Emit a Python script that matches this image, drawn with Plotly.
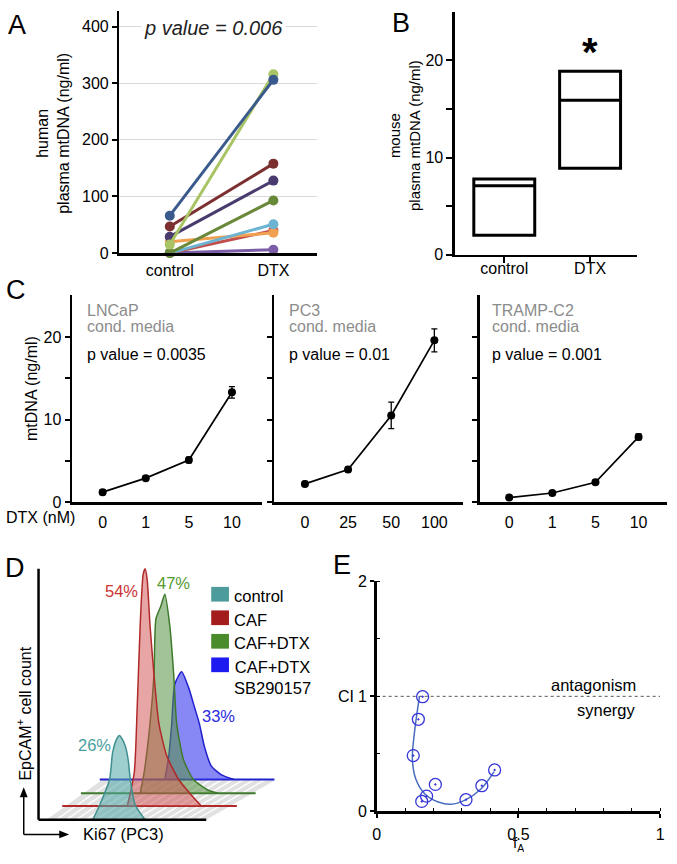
import plotly.graph_objects as go

W, H = 677, 864
FONT = "Liberation Sans, Arial, sans-serif"


def fx(px):
    return px / W


def fy(py):
    return 1 - py / H


# ---------------- data ----------------
# Panel A: human plasma mtDNA (ng/ml), paired patients
a_groups = ["control", "DTX"]
a_control = [0, 0, 20, 0, 0, 29, 47, 15, 66]
a_dtx = [6, 40, 36, 51, 93, 128, 158, 316, 306]
a_colors = ["#7b5ea7", "#c0504d", "#f0a050", "#6cb4d2", "#69883a",
            "#4a3b6e", "#7b2f30", "#a9c465", "#3a5a8c"]

# Panel B: mouse plasma mtDNA (ng/ml) floating boxes
b_groups = ["control", "DTX"]
b_low = [2.0, 8.9]
b_median = [7.1, 15.9]
b_high = [7.8, 18.9]

# Panel C: conditioned media mtDNA (ng/ml)
c_lncap_dose = ["0", "1", "5", "10"]
c_lncap = [1.2, 2.9, 5.1, 13.3]
c_lncap_err = [0.3, 0.25, 0.35, 0.7]
c_pc3_dose = ["0", "25", "50", "100"]
c_pc3 = [2.2, 3.95, 10.5, 19.6]
c_pc3_err = [0.3, 0.3, 1.6, 1.4]
c_tramp_dose = ["0", "1", "5", "10"]
c_tramp = [0.55, 1.1, 2.4, 7.9]
c_tramp_err = [0.2, 0.2, 0.25, 0.35]

# Panel D: Ki67 histograms (intensity, count) per condition
d_names = ["control", "CAF", "CAF+DTX", "CAF+DTX<br>SB290157"]
d_pct = ["26%", "54%", "47%", "33%"]
d_teal_x = [55, 62, 72, 75, 79, 82, 85, 88, 91, 93, 98, 108]
d_teal_y = [0, 15, 41, 68, 82, 86, 82, 75, 60, 41, 15, 0]
d_red_x = [71, 78, 81, 84, 87, 89, 91, 94, 98, 103, 111, 123, 136, 146]
d_red_y = [0, 34, 101, 184, 236, 242, 232, 184, 134, 84, 51, 27, 11, 0]
d_green_x = [65, 69, 75, 79, 81, 86, 90, 95, 99, 102, 109, 119, 134, 144]
d_green_y = [0, 21, 71, 121, 178, 191, 203, 171, 121, 71, 34, 14, 3, 0]
d_blue_x = [71, 75, 78, 81, 88, 95, 101, 106, 111, 118, 128, 141]
d_blue_y = [0, 24, 57, 97, 110, 94, 74, 57, 34, 14, 5, 0]

# Panel E: combination index vs fraction affected
e_fa = [0.162, 0.147, 0.129, 0.207, 0.176, 0.159, 0.315, 0.371, 0.416]
e_ci = [0.997, 0.80, 0.484, 0.233, 0.131, 0.085, 0.10, 0.222, 0.359]
e_fit_fa = [0.151, 0.133, 0.126, 0.138, 0.17, 0.217, 0.263, 0.31, 0.368, 0.414]
e_fit_ci = [1.0, 0.68, 0.45, 0.28, 0.15, 0.08, 0.06, 0.094, 0.193, 0.344]

fig = go.Figure()

# ---------------- Panel A ----------------
for c0, c1, col in zip(a_control, a_dtx, a_colors):
    fig.add_trace(go.Scatter(
        x=[0, 1], y=[c0, c1], mode="lines+markers",
        line=dict(color=col, width=3), marker=dict(color=col, size=10),
        xaxis="x", yaxis="y", cliponaxis=False))

# ---------------- Panel B ----------------
fig.add_trace(go.Box(
    x=[0, 1], q1=b_low, median=b_median, q3=b_high,
    lowerfence=b_low, upperfence=b_high, width=0.71,
    fillcolor="white", line=dict(color="black", width=3),
    whiskerwidth=0, boxpoints=False, xaxis="x2", yaxis="y2"))

# ---------------- Panel C ----------------
for ax, xs, ys, es in [("3", c_lncap_dose, c_lncap, c_lncap_err),
                       ("4", c_pc3_dose, c_pc3, c_pc3_err),
                       ("5", c_tramp_dose, c_tramp, c_tramp_err)]:
    fig.add_trace(go.Scatter(
        x=list(range(len(xs))), y=ys, mode="lines+markers",
        line=dict(color="black", width=1.7),
        marker=dict(color="black", size=8),
        error_y=dict(type="data", array=es, visible=True, color="black",
                     thickness=1.3, width=3),
        xaxis="x" + ax, yaxis="y" + ax, cliponaxis=False))

# ---------------- Panel D ----------------
depth = [(0, 2), (19, 16), (38, 29), (57, 43)]
span = (5, 178)
fz, bz = depth[0], depth[3]
plane_x = [span[0] + 3 + fz[0], span[1] - 8 + fz[0], span[1] + bz[0] + 6, span[0] + bz[0] + 3, span[0] + 3 + fz[0]]
plane_y = [fz[1], fz[1], bz[1], bz[1], fz[1]]
fig.add_trace(go.Scatter(x=plane_x, y=plane_y, fill="toself", mode="lines",
                         fillcolor="rgba(200,200,200,0.55)", line=dict(width=0),
                         xaxis="x6", yaxis="y6", hoverinfo="skip"))
for k in range(1, 16):
    t = k / 16
    x0 = plane_x[0] + t * (plane_x[1] - plane_x[0])
    x1 = plane_x[3] + t * (plane_x[2] - plane_x[3])
    fig.add_trace(go.Scatter(x=[x0, x1], y=[fz[1], bz[1]], mode="lines",
                             line=dict(color="rgba(255,255,255,0.9)", width=1.5),
                             xaxis="x6", yaxis="y6", hoverinfo="skip"))

curves = [
    (d_blue_x, d_blue_y, 3, "rgba(55,55,240,0.6)", "#2222cc"),
    (d_green_x, d_green_y, 2, "rgba(85,145,65,0.55)", "#3d7a2c"),
    (d_red_x, d_red_y, 1, "rgba(210,75,75,0.5)", "#b02a2a"),
    (d_teal_x, d_teal_y, 0, "rgba(80,165,165,0.55)", "#3f8f8f"),
]
for xs, ys, di, fc, lc in curves:
    dx, dy = depth[di]
    if di > 0:
        fig.add_trace(go.Scatter(x=[span[0] + dx, span[1] + dx + 4], y=[dy, dy], mode="lines",
                                 line=dict(color=lc, width=1.8),
                                 xaxis="x6", yaxis="y6", hoverinfo="skip"))
    fig.add_trace(go.Scatter(x=[v + dx for v in xs], y=[v + dy for v in ys],
                             fill="toself", fillcolor=fc, mode="lines",
                             line=dict(color=lc, width=1.5, shape="spline", smoothing=0.6),
                             xaxis="x6", yaxis="y6", hoverinfo="skip"))

# ---------------- Panel E ----------------
fig.add_trace(go.Scatter(x=[0, 1], y=[1, 1], mode="lines",
                         line=dict(color="#555555", width=1, dash="dot"),
                         xaxis="x7", yaxis="y7"))
fig.add_trace(go.Scatter(x=e_fit_fa, y=e_fit_ci, mode="lines",
                         line=dict(color="#4a6cc0", width=1.5, shape="spline"),
                         xaxis="x7", yaxis="y7"))
fig.add_trace(go.Scatter(x=e_fa, y=e_ci, mode="markers",
                         marker=dict(symbol="circle-open-dot", size=12,
                                     color="#3535d8", line=dict(width=1.3, color="#3535d8")),
                         xaxis="x7", yaxis="y7", cliponaxis=False))

# ---------------- layout ----------------
tf = dict(family=FONT, size=16, color="black")
base = dict(showgrid=False, zeroline=False, showline=True, linecolor="black",
            linewidth=2.5, tickfont=tf, tickcolor="black", tickwidth=2)
minor5 = dict(tickvals=[5, 15], ticks="outside", ticklen=6, tickcolor="black", tickwidth=2)

layout = dict(
    width=W, height=H, margin=dict(l=0, r=0, t=0, b=0),
    paper_bgcolor="white", plot_bgcolor="white", showlegend=False,
    font=dict(family=FONT, color="black"), hovermode=False,
)
# A
layout["xaxis"] = dict(base, domain=[fx(117), fx(317)], range=[-0.486, 1.419],
                       tickvals=[0, 1], ticktext=a_groups, ticks="", ticklabelstandoff=1)
layout["yaxis"] = dict(base, domain=[fy(250), fy(3)], range=[0, 427.7],
                       tickvals=[0, 100, 200, 300, 400], ticks="outside", ticklen=5,
                       showgrid=True, gridcolor="#d9d9d9", gridwidth=1)
# B
layout["xaxis2"] = dict(base, domain=[fx(457), fx(642)], range=[-0.575, 1.552], anchor="y2",
                        tickvals=[0, 1], ticktext=b_groups, ticks="outside", ticklen=6,
                        ticklabelstandoff=-8)
layout["yaxis2"] = dict(base, domain=[fy(251.7), fy(4)], range=[0, 25], anchor="x2",
                        tickvals=[0, 10, 20], ticks="outside", ticklen=6, minor=minor5)
# C
cy = dict(base, domain=[fy(504), fy(292.7)], range=[0, 25.1],
          tickvals=[0, 10, 20], ticks="outside", ticklen=5, minor=dict(minor5, ticklen=5))
for ax, dom, rng, labels, show in [("3", [69, 261], [-0.709, 3.686], c_lncap_dose, True),
                                   ("4", [274, 465], [-0.709, 3.66], c_pc3_dose, False),
                                   ("5", [482, 672], [-0.686, 3.66], c_tramp_dose, False)]:
    layout["xaxis" + ax] = dict(base, domain=[fx(dom[0]), fx(dom[1])], range=rng,
                                tickvals=[0, 1, 2, 3], ticktext=labels, ticks="",
                                anchor="y" + ax, ticklabelstandoff=4)
    yd = dict(cy, anchor="x" + ax)
    if not show:
        yd["showticklabels"] = False
    layout["yaxis" + ax] = yd
# D
layout["xaxis6"] = dict(domain=[fx(35), fx(280)], range=[0, 245], visible=False, anchor="y6")
layout["yaxis6"] = dict(domain=[fy(830), fy(570)], range=[0, 260], visible=False, anchor="x6")
# E
layout["xaxis7"] = dict(base, domain=[fx(377.7), fx(665)], range=[0, 1], anchor="y7",
                        tickvals=[0, 0.5, 1], ticktext=["0", "0.5", "1"],
                        ticks="outside", ticklen=4, ticklabelstandoff=3,
                        minor=dict(dtick=0.1, ticks="inside", ticklen=3, tickcolor="black", tickwidth=1))
layout["yaxis7"] = dict(base, domain=[fy(819.3), fy(585)], range=[0, 2], anchor="x7",
                        tickvals=[0, 1, 2], ticks="outside", ticklen=4,
                        minor=dict(dtick=0.5, ticks="inside", ticklen=3, tickcolor="black", tickwidth=1))
fig.update_layout(**layout)

anns = []


def ann(text, x, y, size=16, color="black", xanchor="center", yanchor="middle", **kw):
    anns.append(dict(text=text, x=fx(x), y=fy(y), xref="paper", yref="paper",
                     showarrow=False, xanchor=xanchor, yanchor=yanchor,
                     font=dict(family=FONT, size=size, color=color), **kw))


# panel letters
for letter, x, y in [("A", 13, 17), ("B", 402, 15), ("C", 12, 288), ("D", 11, 571), ("E", 343, 568)]:
    ann(letter, x, y, size=27)

# A
ann("human<br>plasma mtDNA (ng/ml)", 50, 128, size=16, textangle=-90)
anns.append(dict(text="<i>p value = 0.006</i>", x=0.42, y=398, xref="x", yref="y",
                 showarrow=False, font=dict(family=FONT, size=20, color="#222222"),
                 bgcolor="white", borderpad=2))
# B
ann("mouse<br>plasma mtDNA (ng/ml)", 406, 130, size=15, textangle=-90)
ann("<b>*</b>", 594, 45, size=40)
# C
ann("mtDNA (ng/ml)", 28, 388, size=16, textangle=-90)
ann("DTX (nM)", 37, 520, size=16)
for x, name, p in [(82, "LNCaP", "p value = 0.0035"), (287, "PC3", "p value = 0.01"),
                   (493, "TRAMP-C2", "p value = 0.001")]:
    ann(name, x, 309, size=16, color="#8c8c8c", xanchor="left")
    ann("cond. media", x, 325, size=16, color="#8c8c8c", xanchor="left")
    ann(p, x, 353, size=16, xanchor="left")
# D
ann("EpCAM<sup>+</sup> cell count", 20, 720, size=16, textangle=-90)
ann("Ki67 (PC3)", 78, 843, size=16.5, xanchor="left")
for txt, x, y, col in [(d_pct[0], 92, 752, "#4a9e9e"), (d_pct[1], 119, 595, "#cc3333"),
                       (d_pct[2], 172, 587, "#55992e"), (d_pct[3], 217, 722, "#2a2ae0")]:
    ann(txt, x, y, size=16.5, color=col)
leg_cols = ["#4d9b9a", "#a31d1d", "#4a8c2c", "#1c1cf0"]
leg_y = [598, 622, 646, 670]
shapes = []
for name, col, y in zip(d_names, leg_cols, leg_y):
    shapes.append(dict(type="rect", xref="paper", yref="paper", x0=fx(210), x1=fx(228),
                       y0=fy(y + 7.5), y1=fy(y - 7.5), fillcolor=col, line=dict(width=0)))
    ann(name, 231, y - 9, size=16.5, xanchor="left", yanchor="top")
# D axes
shapes.append(dict(type="line", xref="paper", yref="paper", x0=fx(35), x1=fx(35),
                   y0=fy(828), y1=fy(572), line=dict(color="black", width=2.5)))
shapes.append(dict(type="line", xref="paper", yref="paper", x0=fx(35), x1=fx(205),
                   y0=fy(828), y1=fy(828), line=dict(color="black", width=2.5)))
shapes.append(dict(type="line", xref="paper", yref="paper", x0=fx(20), x1=fx(20),
                   y0=fy(843), y1=fy(803), line=dict(color="black", width=1.5)))
shapes.append(dict(type="line", xref="paper", yref="paper", x0=fx(20), x1=fx(58),
                   y0=fy(843), y1=fy(843), line=dict(color="black", width=1.5)))
shapes.append(dict(type="path", xref="paper", yref="paper",
                   path=f"M {fx(16)},{fy(805)} L {fx(24)},{fy(805)} L {fx(20)},{fy(795)} Z",
                   fillcolor="black", line=dict(width=0)))
shapes.append(dict(type="path", xref="paper", yref="paper",
                   path=f"M {fx(56)},{fy(839)} L {fx(56)},{fy(847)} L {fx(66)},{fy(843)} Z",
                   fillcolor="black", line=dict(width=0)))
# E
ann("CI", 347, 702, size=16)
ann("f<sub>A</sub>", 521, 864, size=15, yanchor="bottom", height=18)
ann("antagonism", 643, 691, size=16.5, xanchor="right")
ann("synergy", 643, 716, size=16.5, xanchor="right")

fig.update_layout(annotations=anns, shapes=shapes)
fig.write_html("out.html", config={"displayModeBar": False, "staticPlot": True},
               post_script="document.body.style.margin='0px';document.body.style.padding='0px';"
                           "document.documentElement.style.overflow='hidden';")
